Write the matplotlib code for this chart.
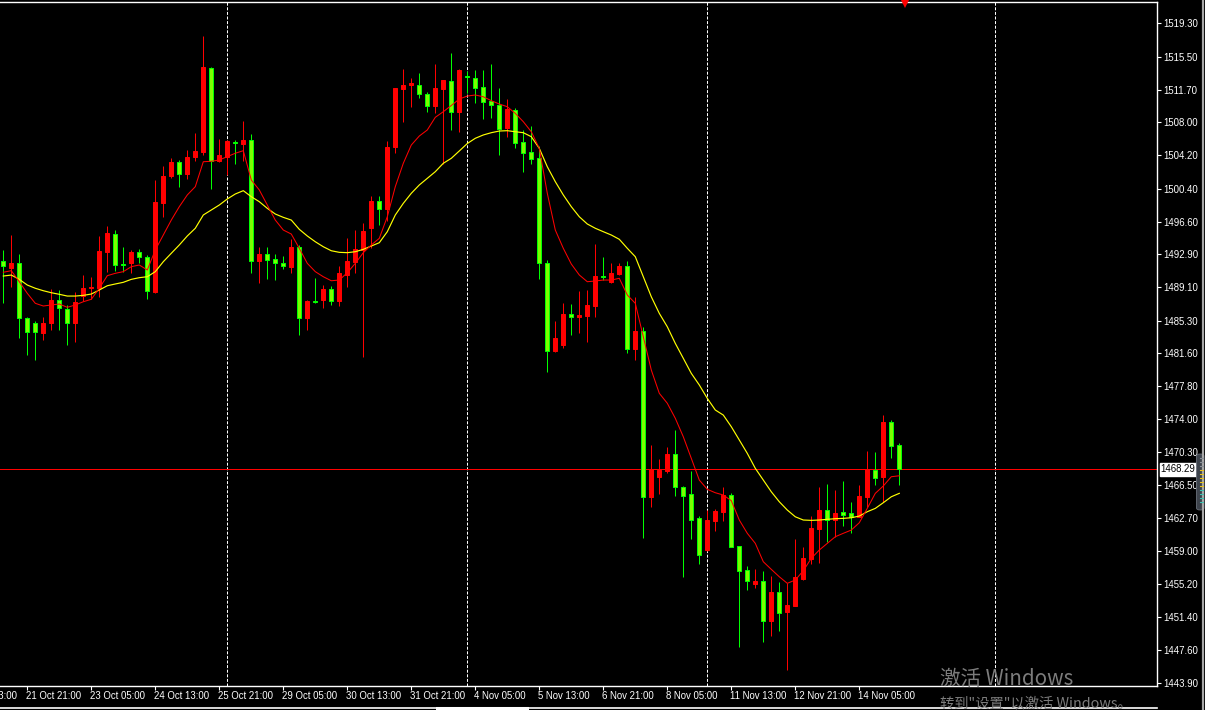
import matplotlib
matplotlib.use("Agg")
import matplotlib.pyplot as plt
from matplotlib.patches import FancyBboxPatch
from matplotlib.lines import Line2D

plt.rcParams['font.family'] = ['Liberation Sans', 'DejaVu Sans']

# ---------------- data (H4 candles, XAUUSD-like) ----------------
opens = [1492.1, 1491.35, 1491.85, 1485.6, 1485.0, 1483.9, 1485.0, 1487.65, 1486.6, 1485.0,
         1488.1, 1489.0, 1489.0, 1493.2, 1495.2, 1491.8, 1491.85, 1493.1, 1492.6, 1488.6,
         1498.8, 1501.8, 1503.4, 1502.1, 1504.0, 1504.6, 1514.15, 1503.5, 1504.05, 1505.75,
         1505.5, 1505.9, 1492.15, 1492.9, 1492.35, 1491.85, 1491.4, 1493.75, 1485.6, 1487.5,
         1487.7, 1488.9, 1487.55, 1490.5, 1492.05, 1493.4, 1495.9, 1499.0, 1498.1, 1505.1,
         1511.8, 1512.2, 1512.25, 1511.2, 1509.8, 1511.8, 1512.7, 1509.1, 1513.3, 1513.1,
         1512.0, 1510.4, 1509.9, 1507.3, 1509.4, 1505.7, 1504.6, 1503.9, 1491.85, 1481.85,
         1482.5, 1486.05, 1485.7, 1485.85, 1487.0, 1490.35, 1489.75, 1490.6, 1491.55, 1482.0,
         1484.1, 1465.15, 1467.45, 1468.15, 1470.05, 1466.25, 1465.45, 1462.7, 1459.05, 1462.4,
         1463.45, 1465.35, 1459.5, 1456.8, 1455.15, 1455.55, 1451.0, 1454.3, 1452.0, 1452.65,
         1455.8, 1458.0, 1461.45, 1463.6, 1462.55, 1463.4, 1463.25, 1462.8, 1465.15, 1468.2,
         1467.45, 1473.7, 1471.05]
highs = [1493.4, 1495.1, 1492.9, 1485.75, 1485.2, 1485.75, 1488.9, 1488.8, 1487.1, 1488.6,
         1490.5, 1490.3, 1495.0, 1496.1, 1495.7, 1493.7, 1493.4, 1493.45, 1492.8, 1501.4,
         1503.0, 1503.85, 1503.7, 1504.8, 1506.8, 1517.85, 1514.3, 1506.1, 1505.95, 1506.0,
         1508.1, 1506.6, 1493.7, 1493.75, 1492.9, 1492.7, 1494.6, 1493.95, 1487.65, 1490.2,
         1489.4, 1489.25, 1491.5, 1494.7, 1495.65, 1496.5, 1499.5, 1499.5, 1505.8, 1511.9,
         1514.05, 1513.0, 1513.65, 1511.4, 1514.65, 1512.8, 1515.9, 1514.05, 1513.9, 1513.95,
         1513.95, 1514.7, 1511.9, 1510.6, 1509.6, 1507.1, 1507.55, 1505.3, 1492.2, 1485.2,
         1487.35, 1487.2, 1488.7, 1488.8, 1494.05, 1492.6, 1491.85, 1491.9, 1492.1, 1488.0,
         1484.6, 1471.05, 1469.45, 1470.8, 1472.8, 1466.4, 1468.1, 1463.0, 1463.6, 1463.8,
         1466.3, 1465.6, 1459.5, 1457.2, 1456.9, 1456.7, 1456.1, 1455.4, 1455.3, 1460.3,
         1459.45, 1463.0, 1466.3, 1466.6, 1465.9, 1467.0, 1464.6, 1466.5, 1470.4, 1470.3,
         1474.5, 1473.9, 1471.3]
lows = [1487.3, 1489.2, 1483.3, 1481.4, 1480.8, 1483.1, 1484.2, 1484.2, 1482.5, 1482.9,
        1487.5, 1487.8, 1488.0, 1490.9, 1491.0, 1490.9, 1490.8, 1491.85, 1487.8, 1488.5,
        1497.2, 1501.6, 1500.6, 1501.45, 1503.6, 1504.2, 1500.4, 1503.4, 1501.95, 1503.2,
        1503.55, 1490.7, 1489.6, 1490.1, 1490.0, 1491.15, 1490.7, 1483.65, 1484.2, 1487.3,
        1486.8, 1487.1, 1487.0, 1489.2, 1490.8, 1481.1, 1493.6, 1496.2, 1496.7, 1504.5,
        1508.05, 1509.75, 1510.8, 1509.2, 1509.0, 1503.2, 1507.1, 1506.9, 1511.3, 1510.2,
        1508.4, 1508.5, 1504.2, 1506.3, 1505.0, 1502.3, 1503.2, 1490.1, 1479.4, 1481.7,
        1482.2, 1483.65, 1483.85, 1482.8, 1485.7, 1489.95, 1489.6, 1490.5, 1481.6, 1480.8,
        1460.4, 1464.0, 1465.5, 1467.9, 1465.25, 1456.0, 1460.3, 1457.5, 1459.0, 1461.2,
        1462.4, 1459.4, 1448.0, 1454.55, 1454.75, 1448.6, 1449.2, 1449.8, 1445.3, 1452.65,
        1455.6, 1457.45, 1457.6, 1460.0, 1460.6, 1461.85, 1461.0, 1462.8, 1463.95, 1466.5,
        1464.6, 1469.55, 1466.5]
closes = [1491.5, 1491.9, 1485.6, 1484.0, 1484.0, 1485.0, 1487.65, 1486.7, 1485.0, 1487.4,
          1489.0, 1489.1, 1493.3, 1495.3, 1491.7, 1491.7, 1493.1, 1492.6, 1488.7, 1498.9,
          1501.8, 1503.4, 1502.1, 1504.0, 1504.7, 1514.3, 1503.5, 1504.2, 1505.8, 1505.6,
          1505.95, 1492.15, 1492.9, 1492.2, 1491.85, 1491.5, 1493.7, 1485.6, 1487.55, 1487.4,
          1488.9, 1487.6, 1490.7, 1492.1, 1493.5, 1495.5, 1499.0, 1498.1, 1505.2, 1511.9,
          1512.25, 1512.5, 1511.2, 1509.8, 1511.9, 1512.8, 1509.1, 1513.95, 1513.2, 1511.9,
          1510.3, 1509.9, 1507.25, 1509.5, 1505.65, 1504.5, 1503.8, 1491.9, 1481.85, 1483.35,
          1486.05, 1485.7, 1485.95, 1487.1, 1490.4, 1490.25, 1490.7, 1491.5, 1482.05, 1484.1,
          1465.15, 1468.3, 1468.2, 1470.05, 1466.25, 1465.3, 1462.5, 1458.5, 1462.5, 1463.5,
          1465.35, 1459.45, 1456.7, 1455.55, 1455.55, 1451.0, 1454.3, 1451.9, 1452.75, 1455.95,
          1458.15, 1461.6, 1463.6, 1462.55, 1463.25, 1463.05, 1462.8, 1465.25, 1468.3, 1467.35,
          1473.75, 1471.0, 1468.29]

# red (fast) moving average
ma_fast = [1490.83, 1491.01, 1489.75, 1488.42, 1487.28, 1486.97, 1487.09, 1487.20, 1486.82, 1487.09,
           1487.46, 1487.74, 1489.0, 1490.44, 1490.71, 1490.9, 1491.47, 1491.66, 1491.09, 1493.38,
           1495.09, 1496.8, 1498.33, 1499.67, 1500.62, 1503.47, 1503.52, 1503.67, 1504.05, 1504.44,
           1504.73, 1501.38, 1500.24, 1498.52, 1496.8, 1495.66, 1495.2, 1493.57, 1491.85, 1490.9,
           1490.32, 1489.86, 1489.94, 1490.78, 1491.85, 1493.07, 1493.95, 1494.71, 1497.18, 1500.62,
           1503.29, 1505.38, 1506.41, 1507.1, 1508.55, 1509.19, 1509.9, 1510.64, 1510.98, 1511.1,
           1510.9, 1510.45, 1510.07, 1509.76, 1509.0, 1508.05, 1506.9, 1505.0, 1499.86, 1495.66,
           1493.57, 1491.77, 1490.52, 1489.75, 1489.83, 1489.94, 1489.94, 1490.14, 1488.23, 1487.28,
           1483.46, 1479.65, 1476.99, 1475.85, 1474.13, 1472.02, 1469.55, 1467.07, 1466.01, 1465.62,
           1465.36, 1464.71, 1462.5, 1460.98, 1459.83, 1457.73, 1456.86, 1456.01, 1455.26, 1455.64,
           1456.7, 1458.12, 1459.07, 1459.83, 1460.59, 1460.98, 1461.35, 1462.19, 1463.84, 1465.55,
           1466.39, 1467.45, 1467.56]
# yellow (slow) moving average
ma_slow = [1490.4, 1490.51, 1490.02, 1489.37, 1489.0, 1488.72, 1488.49, 1488.31, 1488.11, 1488.11,
           1488.19, 1488.34, 1488.8, 1489.29, 1489.49, 1489.68, 1490.02, 1490.21, 1490.32, 1490.9,
           1492.04, 1493.0, 1493.95, 1494.98, 1495.86, 1497.38, 1497.95, 1498.52, 1499.21, 1499.78,
           1500.16, 1499.47, 1498.9, 1498.14, 1497.49, 1497.11, 1496.8, 1495.74, 1494.98, 1494.32,
           1493.75, 1493.29, 1493.11, 1493.07, 1493.18, 1493.45, 1493.83, 1494.21, 1495.47, 1497.38,
           1498.71, 1499.86, 1500.81, 1501.57, 1502.33, 1503.29, 1503.86, 1504.7, 1505.55, 1506.15,
           1506.53, 1506.79, 1506.98, 1507.02, 1506.9, 1506.79, 1506.33, 1505.0, 1502.9, 1501.19,
           1499.67, 1498.33, 1497.18, 1496.35, 1495.86, 1495.47, 1495.09, 1494.6, 1493.57, 1492.61,
           1490.32, 1488.03, 1486.13, 1484.6, 1482.7, 1480.99, 1479.27, 1477.94, 1476.41, 1475.08,
           1474.5, 1473.17, 1471.65, 1470.12, 1468.41, 1467.07, 1465.73, 1464.59, 1463.64, 1462.87,
           1462.5, 1462.46, 1462.5, 1462.58, 1462.65, 1462.69, 1462.76, 1462.95, 1463.45, 1463.83,
           1464.48, 1465.16, 1465.55]

time_tick_bars = [-5, 3, 11, 19, 27, 35, 43, 51, 59, 67, 75, 83, 91, 99, 107]
time_tick_labels = ['18 Oct 13:00', '21 Oct 21:00', '23 Oct 05:00', '24 Oct 13:00',
                    '25 Oct 21:00', '29 Oct 05:00', '30 Oct 13:00', '31 Oct 21:00',
                    '4 Nov 05:00', '5 Nov 13:00', '6 Nov 21:00', '8 Nov 05:00',
                    '11 Nov 13:00', '12 Nov 21:00', '14 Nov 05:00']
separator_bars = [28, 58, 88, 124]
price_tick_labels = ['1519.30', '1515.50', '1511.70', '1508.00', '1504.20', '1500.40',
                     '1496.60', '1492.90', '1489.10', '1485.30', '1481.60', '1477.80',
                     '1474.00', '1470.30', '1466.50', '1462.70', '1459.00', '1455.20',
                     '1451.40', '1447.60', '1443.90']
bid_price = 1468.29
bid_label = '1468.29'
arrow_bar, arrow_price = 112.7, 1521.45

# ---------------- styling ----------------
BG = 'black'
UP = '#ff0000'
DN_FILL = '#7cfc00'
DN_EDGE = '#00ff00'
PX = 0.72  # one pixel in points at dpi 100

W, H = 1205, 710
fig = plt.figure(figsize=(W / 100, H / 100), dpi=100, facecolor=BG)
ax_left, ax_right, ax_top, ax_bot = 0, 1156.7, 2.3, 686.0
ax = fig.add_axes([ax_left / W, (H - ax_bot) / H, (ax_right - ax_left) / W, (ax_bot - ax_top) / H])
ax.set_facecolor(BG)

n = len(opens)
xs = list(range(n))

# separators
for b in separator_bars:
    ax.axvline(b, color='white', lw=PX, linestyle=(0, (3, 1.6)), zorder=1)

# bid line
ax.axhline(bid_price, color='#ff0000', lw=PX, zorder=2)

# candles
for i in xs:
    o, h, l, c = opens[i], highs[i], lows[i], closes[i]
    up = c > o
    wc = UP if up else DN_EDGE
    fc = UP if up else DN_FILL
    ax.vlines(i, l, h, color=wc, lw=PX, zorder=3)
    lo, hi = min(o, c), max(o, c)
    ax.bar(i, max(hi - lo, 0.02), bottom=lo, width=0.5, color=fc, edgecolor=wc,
           linewidth=PX, zorder=4)

# moving averages
ax.plot(xs, ma_slow, color='#ffff00', lw=0.85, zorder=5)
ax.plot(xs, ma_fast, color='#ff0000', lw=0.75, zorder=5)

# red arrow marker at top
ax.plot([arrow_bar], [arrow_price], marker='v', color='#ff0000', markersize=5.5,
        markeredgewidth=0, clip_on=False, zorder=6)

# limits
ax.set_xlim(-0.4125, 144.175)
ax.set_ylim(1443.52, 1521.70)

# spines
for s in ['top', 'right', 'bottom']:
    ax.spines[s].set_color('white')
    ax.spines[s].set_linewidth(1.0)
ax.spines['left'].set_visible(False)

# price axis
ax.yaxis.tick_right()
ax.set_yticks([float(s) for s in price_tick_labels])
ax.set_yticklabels(price_tick_labels)
ax.tick_params(axis='y', colors='white', labelcolor='white', length=3, width=0.8,
               pad=2, labelsize=6.9, direction='out')

# time axis
vis = [b for b in time_tick_bars if -0.4 <= b <= 144]
ax.set_xticks(vis)
ax.set_xticklabels([''] * len(vis))
ax.tick_params(axis='x', colors='white', length=3, width=0.8, direction='out')
for b, lab in zip(time_tick_bars, time_tick_labels):
    ax.annotate(lab, xy=(b, 0), xycoords=('data', 'axes fraction'),
                xytext=(-1.5, -10), textcoords='offset pixels', ha='left', va='center',
                color='white', fontsize=6.9, annotation_clip=False)

# bid price label on axis
ax.annotate(bid_label, xy=(1, bid_price), xycoords=('axes fraction', 'data'),
            xytext=(4, 0), textcoords='offset pixels', ha='left', va='center',
            color='black', fontsize=6.9, annotation_clip=False, zorder=10,
            bbox=dict(boxstyle='square,pad=0.12', fc='white', ec='white'))

# frame lines outside the axes
fig.add_artist(Line2D([0, ax_right / W], [(H - 707.7) / H] * 2, color='white', lw=1.2))
fig.add_artist(Line2D([437 / W, 527 / W], [(H - 707.7) / H] * 2, color='white', lw=2.2))
fig.add_artist(Line2D([1202.8 / W] * 2, [0, 1], color='#a8a8a8', lw=1.6))

# small side widget
fig.add_artist(FancyBboxPatch((1196.5 / W, (H - 510) / H), 7.5 / W, 56 / H,
                              boxstyle='round,pad=0,rounding_size=0.003',
                              fc='#3d434c', ec='#6a707a', lw=0.6))
for k in range(12):
    yy = 458 + k * 4
    col = '#8a8f96' if k < 3 else ('#e8c21a' if k < 8 else '#3fc1b0')
    fig.add_artist(Line2D([1199.5 / W, 1203 / W], [(H - yy) / H] * 2, color=col, lw=0.8))

# Windows activation watermark
fig.text(940 / W, (H - 679) / H, '激活 Windows', color='#7c7c7c', fontsize=14.8,
         family=['Noto Sans CJK SC', 'DejaVu Sans'], ha='left', va='center', zorder=20)
fig.text(940 / W, (H - 703) / H, '转到"设置"以激活 Windows。', color='#7c7c7c', fontsize=10.3,
         family=['Noto Sans CJK SC', 'DejaVu Sans'], ha='left', va='center', zorder=20)

fig.savefig('out.png', dpi=100, facecolor=BG)
